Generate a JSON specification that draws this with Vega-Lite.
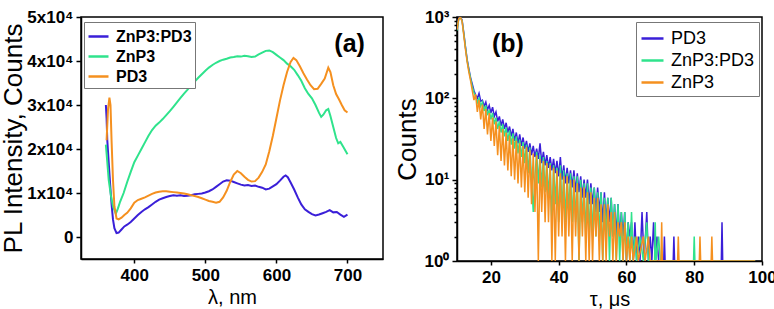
{
  "$schema": "https://vega.github.io/schema/vega-lite/v6.json",
  "padding": {"left": 0, "top": 7, "right": 0, "bottom": 0},
  "spacing": 9,
  "config": {
    "font": "Liberation Sans",
    "view": {"stroke": "#000", "strokeWidth": 1.5},
    "axis": {
      "grid": false,
      "domainColor": "#000",
      "domainWidth": 1.5,
      "tickColor": "#000",
      "tickWidth": 1.5,
      "labelColor": "#000",
      "titleColor": "#000",
      "labelFont": "Liberation Sans",
      "labelFontWeight": "bold",
      "labelFontSize": 17,
      "labelFlush": false,
      "titleFont": "Liberation Sans",
      "titleFontWeight": "normal"
    }
  },
  "resolve": {"scale": {"color": "independent"}, "legend": {"color": "independent"}},
  "datasets": {
    "pl": [
      {"s": "ZnP3:PD3", "w": 360, "i": 30000},
      {"s": "ZnP3:PD3", "w": 361, "i": 27000},
      {"s": "ZnP3:PD3", "w": 362, "i": 22000},
      {"s": "ZnP3:PD3", "w": 364, "i": 17000},
      {"s": "ZnP3:PD3", "w": 366, "i": 12000},
      {"s": "ZnP3:PD3", "w": 368, "i": 7500},
      {"s": "ZnP3:PD3", "w": 370, "i": 4000},
      {"s": "ZnP3:PD3", "w": 372, "i": 2000},
      {"s": "ZnP3:PD3", "w": 375, "i": 900},
      {"s": "ZnP3:PD3", "w": 378, "i": 1000},
      {"s": "ZnP3:PD3", "w": 382, "i": 1700},
      {"s": "ZnP3:PD3", "w": 386, "i": 2400},
      {"s": "ZnP3:PD3", "w": 390, "i": 2800},
      {"s": "ZnP3:PD3", "w": 395, "i": 3400},
      {"s": "ZnP3:PD3", "w": 400, "i": 4200},
      {"s": "ZnP3:PD3", "w": 405, "i": 5000},
      {"s": "ZnP3:PD3", "w": 410, "i": 5700},
      {"s": "ZnP3:PD3", "w": 415, "i": 6300},
      {"s": "ZnP3:PD3", "w": 420, "i": 6800},
      {"s": "ZnP3:PD3", "w": 425, "i": 7400},
      {"s": "ZnP3:PD3", "w": 430, "i": 8000},
      {"s": "ZnP3:PD3", "w": 435, "i": 8500},
      {"s": "ZnP3:PD3", "w": 440, "i": 8800},
      {"s": "ZnP3:PD3", "w": 445, "i": 9100},
      {"s": "ZnP3:PD3", "w": 450, "i": 9300},
      {"s": "ZnP3:PD3", "w": 455, "i": 9500},
      {"s": "ZnP3:PD3", "w": 460, "i": 9400},
      {"s": "ZnP3:PD3", "w": 465, "i": 9500},
      {"s": "ZnP3:PD3", "w": 470, "i": 9300},
      {"s": "ZnP3:PD3", "w": 475, "i": 9400},
      {"s": "ZnP3:PD3", "w": 480, "i": 9500},
      {"s": "ZnP3:PD3", "w": 485, "i": 9700},
      {"s": "ZnP3:PD3", "w": 490, "i": 9800},
      {"s": "ZnP3:PD3", "w": 495, "i": 9900},
      {"s": "ZnP3:PD3", "w": 500, "i": 10100},
      {"s": "ZnP3:PD3", "w": 505, "i": 10400},
      {"s": "ZnP3:PD3", "w": 510, "i": 10800},
      {"s": "ZnP3:PD3", "w": 515, "i": 11400},
      {"s": "ZnP3:PD3", "w": 520, "i": 12000},
      {"s": "ZnP3:PD3", "w": 525, "i": 12600},
      {"s": "ZnP3:PD3", "w": 530, "i": 12900},
      {"s": "ZnP3:PD3", "w": 535, "i": 12800},
      {"s": "ZnP3:PD3", "w": 540, "i": 12500},
      {"s": "ZnP3:PD3", "w": 545, "i": 12200},
      {"s": "ZnP3:PD3", "w": 550, "i": 11900},
      {"s": "ZnP3:PD3", "w": 555, "i": 11700},
      {"s": "ZnP3:PD3", "w": 560, "i": 11800},
      {"s": "ZnP3:PD3", "w": 565, "i": 11600},
      {"s": "ZnP3:PD3", "w": 570, "i": 11700},
      {"s": "ZnP3:PD3", "w": 575, "i": 11400},
      {"s": "ZnP3:PD3", "w": 580, "i": 11200},
      {"s": "ZnP3:PD3", "w": 585, "i": 10800},
      {"s": "ZnP3:PD3", "w": 590, "i": 11000},
      {"s": "ZnP3:PD3", "w": 595, "i": 11500},
      {"s": "ZnP3:PD3", "w": 600, "i": 12000},
      {"s": "ZnP3:PD3", "w": 605, "i": 12800},
      {"s": "ZnP3:PD3", "w": 610, "i": 13700},
      {"s": "ZnP3:PD3", "w": 613, "i": 14000},
      {"s": "ZnP3:PD3", "w": 616, "i": 13600},
      {"s": "ZnP3:PD3", "w": 620, "i": 12400},
      {"s": "ZnP3:PD3", "w": 625, "i": 10800},
      {"s": "ZnP3:PD3", "w": 630, "i": 9000},
      {"s": "ZnP3:PD3", "w": 635, "i": 7400},
      {"s": "ZnP3:PD3", "w": 640, "i": 6300},
      {"s": "ZnP3:PD3", "w": 645, "i": 5700},
      {"s": "ZnP3:PD3", "w": 650, "i": 5200},
      {"s": "ZnP3:PD3", "w": 655, "i": 4900},
      {"s": "ZnP3:PD3", "w": 660, "i": 5100},
      {"s": "ZnP3:PD3", "w": 665, "i": 5400},
      {"s": "ZnP3:PD3", "w": 670, "i": 5700},
      {"s": "ZnP3:PD3", "w": 675, "i": 6100},
      {"s": "ZnP3:PD3", "w": 680, "i": 5600},
      {"s": "ZnP3:PD3", "w": 685, "i": 5700},
      {"s": "ZnP3:PD3", "w": 690, "i": 5100},
      {"s": "ZnP3:PD3", "w": 695, "i": 4600},
      {"s": "ZnP3:PD3", "w": 700, "i": 5100},
      {"s": "ZnP3", "w": 360, "i": 21000},
      {"s": "ZnP3", "w": 362, "i": 17000},
      {"s": "ZnP3", "w": 364, "i": 13000},
      {"s": "ZnP3", "w": 367, "i": 9500},
      {"s": "ZnP3", "w": 370, "i": 7000},
      {"s": "ZnP3", "w": 374, "i": 5300},
      {"s": "ZnP3", "w": 377, "i": 6500},
      {"s": "ZnP3", "w": 380, "i": 8000},
      {"s": "ZnP3", "w": 385, "i": 10000},
      {"s": "ZnP3", "w": 390, "i": 12500},
      {"s": "ZnP3", "w": 395, "i": 14800},
      {"s": "ZnP3", "w": 400, "i": 17000},
      {"s": "ZnP3", "w": 405, "i": 18500},
      {"s": "ZnP3", "w": 410, "i": 20000},
      {"s": "ZnP3", "w": 415, "i": 21500},
      {"s": "ZnP3", "w": 420, "i": 23000},
      {"s": "ZnP3", "w": 425, "i": 24300},
      {"s": "ZnP3", "w": 430, "i": 25300},
      {"s": "ZnP3", "w": 435, "i": 26000},
      {"s": "ZnP3", "w": 440, "i": 26800},
      {"s": "ZnP3", "w": 445, "i": 27700},
      {"s": "ZnP3", "w": 450, "i": 28600},
      {"s": "ZnP3", "w": 455, "i": 29600},
      {"s": "ZnP3", "w": 460, "i": 30600},
      {"s": "ZnP3", "w": 465, "i": 31600},
      {"s": "ZnP3", "w": 470, "i": 32600},
      {"s": "ZnP3", "w": 475, "i": 33500},
      {"s": "ZnP3", "w": 480, "i": 34500},
      {"s": "ZnP3", "w": 485, "i": 35300},
      {"s": "ZnP3", "w": 490, "i": 36200},
      {"s": "ZnP3", "w": 495, "i": 37000},
      {"s": "ZnP3", "w": 500, "i": 37800},
      {"s": "ZnP3", "w": 505, "i": 38500},
      {"s": "ZnP3", "w": 510, "i": 39100},
      {"s": "ZnP3", "w": 515, "i": 39600},
      {"s": "ZnP3", "w": 520, "i": 40000},
      {"s": "ZnP3", "w": 525, "i": 40300},
      {"s": "ZnP3", "w": 530, "i": 40500},
      {"s": "ZnP3", "w": 535, "i": 40800},
      {"s": "ZnP3", "w": 540, "i": 40900},
      {"s": "ZnP3", "w": 545, "i": 41100},
      {"s": "ZnP3", "w": 550, "i": 41000},
      {"s": "ZnP3", "w": 555, "i": 41200},
      {"s": "ZnP3", "w": 560, "i": 41100},
      {"s": "ZnP3", "w": 565, "i": 40900},
      {"s": "ZnP3", "w": 570, "i": 41000},
      {"s": "ZnP3", "w": 575, "i": 41500},
      {"s": "ZnP3", "w": 580, "i": 41900},
      {"s": "ZnP3", "w": 585, "i": 42300},
      {"s": "ZnP3", "w": 590, "i": 42400},
      {"s": "ZnP3", "w": 595, "i": 42000},
      {"s": "ZnP3", "w": 600, "i": 41400},
      {"s": "ZnP3", "w": 605, "i": 40800},
      {"s": "ZnP3", "w": 610, "i": 40200},
      {"s": "ZnP3", "w": 615, "i": 39400},
      {"s": "ZnP3", "w": 620, "i": 38800},
      {"s": "ZnP3", "w": 625, "i": 38000},
      {"s": "ZnP3", "w": 630, "i": 36800},
      {"s": "ZnP3", "w": 635, "i": 35500},
      {"s": "ZnP3", "w": 640, "i": 33800},
      {"s": "ZnP3", "w": 645, "i": 32500},
      {"s": "ZnP3", "w": 650, "i": 31500},
      {"s": "ZnP3", "w": 655, "i": 30000},
      {"s": "ZnP3", "w": 660, "i": 28200},
      {"s": "ZnP3", "w": 663, "i": 27300},
      {"s": "ZnP3", "w": 666, "i": 27800},
      {"s": "ZnP3", "w": 670, "i": 28800},
      {"s": "ZnP3", "w": 673, "i": 29100},
      {"s": "ZnP3", "w": 676, "i": 27500},
      {"s": "ZnP3", "w": 680, "i": 25000},
      {"s": "ZnP3", "w": 684, "i": 22500},
      {"s": "ZnP3", "w": 687, "i": 21300},
      {"s": "ZnP3", "w": 690, "i": 21600},
      {"s": "ZnP3", "w": 694, "i": 20500},
      {"s": "ZnP3", "w": 700, "i": 18800},
      {"s": "PD3", "w": 361, "i": 22000},
      {"s": "PD3", "w": 363, "i": 29000},
      {"s": "PD3", "w": 365, "i": 31700},
      {"s": "PD3", "w": 366.5, "i": 30000},
      {"s": "PD3", "w": 368, "i": 22000},
      {"s": "PD3", "w": 370, "i": 13000},
      {"s": "PD3", "w": 372, "i": 7000},
      {"s": "PD3", "w": 375, "i": 4200},
      {"s": "PD3", "w": 378, "i": 4000},
      {"s": "PD3", "w": 382, "i": 4400},
      {"s": "PD3", "w": 386, "i": 5000},
      {"s": "PD3", "w": 390, "i": 5500},
      {"s": "PD3", "w": 395, "i": 6500},
      {"s": "PD3", "w": 400, "i": 7800},
      {"s": "PD3", "w": 405, "i": 8400},
      {"s": "PD3", "w": 410, "i": 8700},
      {"s": "PD3", "w": 415, "i": 9000},
      {"s": "PD3", "w": 420, "i": 9400},
      {"s": "PD3", "w": 425, "i": 9800},
      {"s": "PD3", "w": 430, "i": 10100},
      {"s": "PD3", "w": 435, "i": 10300},
      {"s": "PD3", "w": 440, "i": 10400},
      {"s": "PD3", "w": 445, "i": 10400},
      {"s": "PD3", "w": 450, "i": 10300},
      {"s": "PD3", "w": 455, "i": 10200},
      {"s": "PD3", "w": 460, "i": 10100},
      {"s": "PD3", "w": 465, "i": 10000},
      {"s": "PD3", "w": 470, "i": 9900},
      {"s": "PD3", "w": 475, "i": 9700},
      {"s": "PD3", "w": 480, "i": 9500},
      {"s": "PD3", "w": 485, "i": 9300},
      {"s": "PD3", "w": 490, "i": 9100},
      {"s": "PD3", "w": 495, "i": 8800},
      {"s": "PD3", "w": 500, "i": 8500},
      {"s": "PD3", "w": 505, "i": 8200},
      {"s": "PD3", "w": 510, "i": 8000},
      {"s": "PD3", "w": 515, "i": 7800},
      {"s": "PD3", "w": 520, "i": 8000},
      {"s": "PD3", "w": 525, "i": 9000},
      {"s": "PD3", "w": 530, "i": 10500},
      {"s": "PD3", "w": 535, "i": 12500},
      {"s": "PD3", "w": 540, "i": 14200},
      {"s": "PD3", "w": 545, "i": 15000},
      {"s": "PD3", "w": 550, "i": 14500},
      {"s": "PD3", "w": 555, "i": 13700},
      {"s": "PD3", "w": 560, "i": 13000},
      {"s": "PD3", "w": 565, "i": 12600},
      {"s": "PD3", "w": 570, "i": 12700},
      {"s": "PD3", "w": 575, "i": 13500},
      {"s": "PD3", "w": 580, "i": 14800},
      {"s": "PD3", "w": 585, "i": 16500},
      {"s": "PD3", "w": 590, "i": 19500},
      {"s": "PD3", "w": 595, "i": 23000},
      {"s": "PD3", "w": 600, "i": 27000},
      {"s": "PD3", "w": 605, "i": 31000},
      {"s": "PD3", "w": 610, "i": 34500},
      {"s": "PD3", "w": 615, "i": 37500},
      {"s": "PD3", "w": 620, "i": 39800},
      {"s": "PD3", "w": 624, "i": 40700},
      {"s": "PD3", "w": 628, "i": 40200},
      {"s": "PD3", "w": 633, "i": 38800},
      {"s": "PD3", "w": 638, "i": 37200},
      {"s": "PD3", "w": 643, "i": 35800},
      {"s": "PD3", "w": 648, "i": 34500},
      {"s": "PD3", "w": 653, "i": 33600},
      {"s": "PD3", "w": 658, "i": 33700},
      {"s": "PD3", "w": 663, "i": 34800},
      {"s": "PD3", "w": 668, "i": 36000},
      {"s": "PD3", "w": 673, "i": 38500},
      {"s": "PD3", "w": 676, "i": 37500},
      {"s": "PD3", "w": 680, "i": 34500},
      {"s": "PD3", "w": 684, "i": 32500},
      {"s": "PD3", "w": 688, "i": 31300},
      {"s": "PD3", "w": 692, "i": 30000},
      {"s": "PD3", "w": 696, "i": 28800},
      {"s": "PD3", "w": 700, "i": 28300}
    ],
    "decay": [
      {"s": "PD3", "t": 10, "c": 720}, {"s": "PD3", "t": 10.5, "c": 960}, {"s": "PD3", "t": 11, "c": 1000}, {"s": "PD3", "t": 11.5, "c": 920},
      {"s": "PD3", "t": 12, "c": 640}, {"s": "PD3", "t": 12.5, "c": 430}, {"s": "PD3", "t": 13, "c": 300}, {"s": "PD3", "t": 13.5, "c": 230},
      {"s": "PD3", "t": 14, "c": 180}, {"s": "PD3", "t": 14.5, "c": 150}, {"s": "PD3", "t": 15, "c": 125}, {"s": "PD3", "t": 15.5, "c": 110},
      {"s": "PD3", "t": 16, "c": 100}, {"s": "PD3", "t": 16.5, "c": 115}, {"s": "PD3", "t": 17, "c": 92}, {"s": "PD3", "t": 17.5, "c": 95},
      {"s": "PD3", "t": 18, "c": 80}, {"s": "PD3", "t": 18.5, "c": 90}, {"s": "PD3", "t": 19, "c": 72}, {"s": "PD3", "t": 19.5, "c": 82},
      {"s": "PD3", "t": 20, "c": 66}, {"s": "PD3", "t": 20.5, "c": 78}, {"s": "PD3", "t": 21, "c": 60}, {"s": "PD3", "t": 21.5, "c": 68},
      {"s": "PD3", "t": 22, "c": 52}, {"s": "PD3", "t": 22.5, "c": 60}, {"s": "PD3", "t": 23, "c": 46}, {"s": "PD3", "t": 23.5, "c": 55},
      {"s": "PD3", "t": 24, "c": 42}, {"s": "PD3", "t": 24.5, "c": 50}, {"s": "PD3", "t": 25, "c": 38}, {"s": "PD3", "t": 25.5, "c": 45},
      {"s": "PD3", "t": 26, "c": 34}, {"s": "PD3", "t": 26.5, "c": 42}, {"s": "PD3", "t": 27, "c": 30}, {"s": "PD3", "t": 27.5, "c": 38},
      {"s": "PD3", "t": 28, "c": 28}, {"s": "PD3", "t": 28.5, "c": 36}, {"s": "PD3", "t": 29, "c": 26}, {"s": "PD3", "t": 29.5, "c": 33},
      {"s": "PD3", "t": 30, "c": 24}, {"s": "PD3", "t": 30.5, "c": 30}, {"s": "PD3", "t": 31, "c": 22}, {"s": "PD3", "t": 31.5, "c": 28},
      {"s": "PD3", "t": 32, "c": 20}, {"s": "PD3", "t": 32.5, "c": 26}, {"s": "PD3", "t": 33, "c": 19}, {"s": "PD3", "t": 33.5, "c": 24},
      {"s": "PD3", "t": 34, "c": 18}, {"s": "PD3", "t": 34.5, "c": 28}, {"s": "PD3", "t": 35, "c": 16}, {"s": "PD3", "t": 35.5, "c": 22},
      {"s": "PD3", "t": 36, "c": 15}, {"s": "PD3", "t": 36.5, "c": 20}, {"s": "PD3", "t": 37, "c": 14}, {"s": "PD3", "t": 37.5, "c": 19},
      {"s": "PD3", "t": 38, "c": 13}, {"s": "PD3", "t": 38.5, "c": 18}, {"s": "PD3", "t": 39, "c": 12}, {"s": "PD3", "t": 39.5, "c": 17},
      {"s": "PD3", "t": 40, "c": 11}, {"s": "PD3", "t": 40.5, "c": 19}, {"s": "PD3", "t": 41, "c": 10}, {"s": "PD3", "t": 41.5, "c": 15},
      {"s": "PD3", "t": 42, "c": 9}, {"s": "PD3", "t": 42.5, "c": 14}, {"s": "PD3", "t": 43, "c": 9}, {"s": "PD3", "t": 43.5, "c": 13},
      {"s": "PD3", "t": 44, "c": 8}, {"s": "PD3", "t": 44.5, "c": 13}, {"s": "PD3", "t": 45, "c": 7}, {"s": "PD3", "t": 45.5, "c": 12},
      {"s": "PD3", "t": 46, "c": 7}, {"s": "PD3", "t": 46.5, "c": 11}, {"s": "PD3", "t": 47, "c": 6}, {"s": "PD3", "t": 47.5, "c": 10},
      {"s": "PD3", "t": 48, "c": 6}, {"s": "PD3", "t": 48.5, "c": 10}, {"s": "PD3", "t": 49, "c": 5}, {"s": "PD3", "t": 49.5, "c": 9},
      {"s": "PD3", "t": 50, "c": 5}, {"s": "PD3", "t": 50.5, "c": 8}, {"s": "PD3", "t": 51, "c": 4}, {"s": "PD3", "t": 51.5, "c": 8},
      {"s": "PD3", "t": 52, "c": 4}, {"s": "PD3", "t": 52.5, "c": 7}, {"s": "PD3", "t": 53, "c": 3}, {"s": "PD3", "t": 53.5, "c": 7},
      {"s": "PD3", "t": 54, "c": 3}, {"s": "PD3", "t": 54.5, "c": 6}, {"s": "PD3", "t": 55, "c": 3}, {"s": "PD3", "t": 55.5, "c": 6},
      {"s": "PD3", "t": 56, "c": 2}, {"s": "PD3", "t": 56.5, "c": 5}, {"s": "PD3", "t": 57, "c": 2}, {"s": "PD3", "t": 57.5, "c": 5},
      {"s": "PD3", "t": 58, "c": 2}, {"s": "PD3", "t": 58.5, "c": 4}, {"s": "PD3", "t": 59, "c": 2}, {"s": "PD3", "t": 59.5, "c": 4},
      {"s": "PD3", "t": 60, "c": 1}, {"s": "PD3", "t": 60.5, "c": 3}, {"s": "PD3", "t": 61, "c": 2}, {"s": "PD3", "t": 61.5, "c": 3},
      {"s": "PD3", "t": 62, "c": 1}, {"s": "PD3", "t": 62.5, "c": 3}, {"s": "PD3", "t": 63, "c": 1}, {"s": "PD3", "t": 63.5, "c": 2},
      {"s": "PD3", "t": 64, "c": 1}, {"s": "PD3", "t": 64.6, "c": 4}, {"s": "PD3", "t": 65.2, "c": 1}, {"s": "PD3", "t": 66, "c": 4},
      {"s": "PD3", "t": 66.5, "c": 1}, {"s": "PD3", "t": 67, "c": 2}, {"s": "PD3", "t": 67.5, "c": 1}, {"s": "PD3", "t": 68, "c": 3},
      {"s": "PD3", "t": 68.5, "c": 1}, {"s": "PD3", "t": 69, "c": 2}, {"s": "PD3", "t": 69.5, "c": 1}, {"s": "PD3", "t": 71, "c": 1},
      {"s": "PD3", "t": 71.2, "c": 2}, {"s": "PD3", "t": 71.4, "c": 1}, {"s": "PD3", "t": 73.8, "c": 1}, {"s": "PD3", "t": 74, "c": 2},
      {"s": "PD3", "t": 74.2, "c": 1}, {"s": "PD3", "t": 88, "c": 1}, {"s": "PD3", "t": 88.2, "c": 3}, {"s": "PD3", "t": 88.4, "c": 1},
      {"s": "PD3", "t": 98, "c": 1},
      {"s": "ZnP3:PD3", "t": 10, "c": 680}, {"s": "ZnP3:PD3", "t": 10.5, "c": 940}, {"s": "ZnP3:PD3", "t": 11, "c": 990}, {"s": "ZnP3:PD3", "t": 11.5, "c": 900},
      {"s": "ZnP3:PD3", "t": 12, "c": 620}, {"s": "ZnP3:PD3", "t": 12.5, "c": 420}, {"s": "ZnP3:PD3", "t": 13, "c": 290}, {"s": "ZnP3:PD3", "t": 13.5, "c": 222},
      {"s": "ZnP3:PD3", "t": 14, "c": 175}, {"s": "ZnP3:PD3", "t": 14.5, "c": 140}, {"s": "ZnP3:PD3", "t": 15, "c": 118}, {"s": "ZnP3:PD3", "t": 15.5, "c": 105},
      {"s": "ZnP3:PD3", "t": 16, "c": 88}, {"s": "ZnP3:PD3", "t": 16.5, "c": 100}, {"s": "ZnP3:PD3", "t": 17, "c": 80}, {"s": "ZnP3:PD3", "t": 17.5, "c": 90},
      {"s": "ZnP3:PD3", "t": 18, "c": 70}, {"s": "ZnP3:PD3", "t": 18.5, "c": 82}, {"s": "ZnP3:PD3", "t": 19, "c": 62}, {"s": "ZnP3:PD3", "t": 19.5, "c": 72},
      {"s": "ZnP3:PD3", "t": 20, "c": 55}, {"s": "ZnP3:PD3", "t": 20.5, "c": 66}, {"s": "ZnP3:PD3", "t": 21, "c": 48}, {"s": "ZnP3:PD3", "t": 21.5, "c": 58},
      {"s": "ZnP3:PD3", "t": 22, "c": 42}, {"s": "ZnP3:PD3", "t": 22.5, "c": 52}, {"s": "ZnP3:PD3", "t": 23, "c": 38}, {"s": "ZnP3:PD3", "t": 23.5, "c": 48},
      {"s": "ZnP3:PD3", "t": 24, "c": 34}, {"s": "ZnP3:PD3", "t": 24.5, "c": 44}, {"s": "ZnP3:PD3", "t": 25, "c": 30}, {"s": "ZnP3:PD3", "t": 25.5, "c": 40},
      {"s": "ZnP3:PD3", "t": 26, "c": 27}, {"s": "ZnP3:PD3", "t": 26.5, "c": 37}, {"s": "ZnP3:PD3", "t": 27, "c": 24}, {"s": "ZnP3:PD3", "t": 27.5, "c": 34},
      {"s": "ZnP3:PD3", "t": 28, "c": 21}, {"s": "ZnP3:PD3", "t": 28.5, "c": 31}, {"s": "ZnP3:PD3", "t": 29, "c": 19}, {"s": "ZnP3:PD3", "t": 29.5, "c": 29},
      {"s": "ZnP3:PD3", "t": 30, "c": 16}, {"s": "ZnP3:PD3", "t": 30.5, "c": 27}, {"s": "ZnP3:PD3", "t": 31, "c": 12}, {"s": "ZnP3:PD3", "t": 31.5, "c": 25},
      {"s": "ZnP3:PD3", "t": 32, "c": 10}, {"s": "ZnP3:PD3", "t": 32.5, "c": 4}, {"s": "ZnP3:PD3", "t": 33, "c": 11}, {"s": "ZnP3:PD3", "t": 33.5, "c": 22},
      {"s": "ZnP3:PD3", "t": 34, "c": 9}, {"s": "ZnP3:PD3", "t": 34.5, "c": 20}, {"s": "ZnP3:PD3", "t": 35, "c": 8}, {"s": "ZnP3:PD3", "t": 35.5, "c": 19},
      {"s": "ZnP3:PD3", "t": 36, "c": 7}, {"s": "ZnP3:PD3", "t": 36.5, "c": 17}, {"s": "ZnP3:PD3", "t": 37, "c": 6}, {"s": "ZnP3:PD3", "t": 37.5, "c": 16},
      {"s": "ZnP3:PD3", "t": 38, "c": 3}, {"s": "ZnP3:PD3", "t": 38.5, "c": 15}, {"s": "ZnP3:PD3", "t": 39, "c": 5}, {"s": "ZnP3:PD3", "t": 39.5, "c": 14},
      {"s": "ZnP3:PD3", "t": 40, "c": 3}, {"s": "ZnP3:PD3", "t": 40.5, "c": 15}, {"s": "ZnP3:PD3", "t": 41, "c": 4}, {"s": "ZnP3:PD3", "t": 41.5, "c": 13},
      {"s": "ZnP3:PD3", "t": 42, "c": 3}, {"s": "ZnP3:PD3", "t": 42.5, "c": 12}, {"s": "ZnP3:PD3", "t": 43, "c": 4}, {"s": "ZnP3:PD3", "t": 43.5, "c": 12},
      {"s": "ZnP3:PD3", "t": 44, "c": 3}, {"s": "ZnP3:PD3", "t": 44.5, "c": 11}, {"s": "ZnP3:PD3", "t": 45, "c": 3}, {"s": "ZnP3:PD3", "t": 45.5, "c": 11},
      {"s": "ZnP3:PD3", "t": 46, "c": 1}, {"s": "ZnP3:PD3", "t": 46.5, "c": 10}, {"s": "ZnP3:PD3", "t": 47, "c": 3}, {"s": "ZnP3:PD3", "t": 47.5, "c": 9},
      {"s": "ZnP3:PD3", "t": 48, "c": 2}, {"s": "ZnP3:PD3", "t": 48.5, "c": 9}, {"s": "ZnP3:PD3", "t": 49, "c": 2}, {"s": "ZnP3:PD3", "t": 49.5, "c": 8},
      {"s": "ZnP3:PD3", "t": 50, "c": 2}, {"s": "ZnP3:PD3", "t": 50.5, "c": 8}, {"s": "ZnP3:PD3", "t": 51, "c": 2}, {"s": "ZnP3:PD3", "t": 51.5, "c": 7},
      {"s": "ZnP3:PD3", "t": 52, "c": 2}, {"s": "ZnP3:PD3", "t": 52.5, "c": 7}, {"s": "ZnP3:PD3", "t": 53, "c": 1}, {"s": "ZnP3:PD3", "t": 53.5, "c": 6},
      {"s": "ZnP3:PD3", "t": 54, "c": 2}, {"s": "ZnP3:PD3", "t": 54.5, "c": 6}, {"s": "ZnP3:PD3", "t": 55, "c": 1}, {"s": "ZnP3:PD3", "t": 55.5, "c": 6},
      {"s": "ZnP3:PD3", "t": 56, "c": 2}, {"s": "ZnP3:PD3", "t": 56.5, "c": 5}, {"s": "ZnP3:PD3", "t": 57, "c": 1}, {"s": "ZnP3:PD3", "t": 57.5, "c": 5},
      {"s": "ZnP3:PD3", "t": 58, "c": 1}, {"s": "ZnP3:PD3", "t": 58.5, "c": 4}, {"s": "ZnP3:PD3", "t": 59, "c": 1}, {"s": "ZnP3:PD3", "t": 59.5, "c": 4},
      {"s": "ZnP3:PD3", "t": 60, "c": 1}, {"s": "ZnP3:PD3", "t": 60.5, "c": 3}, {"s": "ZnP3:PD3", "t": 61, "c": 1}, {"s": "ZnP3:PD3", "t": 61.5, "c": 4},
      {"s": "ZnP3:PD3", "t": 62, "c": 1}, {"s": "ZnP3:PD3", "t": 62.5, "c": 2}, {"s": "ZnP3:PD3", "t": 63, "c": 1}, {"s": "ZnP3:PD3", "t": 64, "c": 2},
      {"s": "ZnP3:PD3", "t": 65, "c": 1}, {"s": "ZnP3:PD3", "t": 66, "c": 3}, {"s": "ZnP3:PD3", "t": 66.5, "c": 1}, {"s": "ZnP3:PD3", "t": 68.3, "c": 1},
      {"s": "ZnP3:PD3", "t": 68.5, "c": 3}, {"s": "ZnP3:PD3", "t": 68.7, "c": 1}, {"s": "ZnP3:PD3", "t": 69.5, "c": 2}, {"s": "ZnP3:PD3", "t": 70, "c": 1},
      {"s": "ZnP3:PD3", "t": 79.8, "c": 1}, {"s": "ZnP3:PD3", "t": 80, "c": 2}, {"s": "ZnP3:PD3", "t": 80.2, "c": 1}, {"s": "ZnP3:PD3", "t": 98, "c": 1},
      {"s": "ZnP3", "t": 10, "c": 700}, {"s": "ZnP3", "t": 10.5, "c": 950}, {"s": "ZnP3", "t": 11, "c": 1000}, {"s": "ZnP3", "t": 11.5, "c": 880},
      {"s": "ZnP3", "t": 12, "c": 600}, {"s": "ZnP3", "t": 12.5, "c": 400}, {"s": "ZnP3", "t": 13, "c": 280}, {"s": "ZnP3", "t": 13.5, "c": 210},
      {"s": "ZnP3", "t": 14, "c": 165}, {"s": "ZnP3", "t": 14.5, "c": 125}, {"s": "ZnP3", "t": 15, "c": 95}, {"s": "ZnP3", "t": 15.5, "c": 112},
      {"s": "ZnP3", "t": 16, "c": 68}, {"s": "ZnP3", "t": 16.5, "c": 95}, {"s": "ZnP3", "t": 17, "c": 55}, {"s": "ZnP3", "t": 17.5, "c": 84},
      {"s": "ZnP3", "t": 18, "c": 42}, {"s": "ZnP3", "t": 18.5, "c": 74}, {"s": "ZnP3", "t": 19, "c": 36}, {"s": "ZnP3", "t": 19.5, "c": 66},
      {"s": "ZnP3", "t": 20, "c": 30}, {"s": "ZnP3", "t": 20.5, "c": 58}, {"s": "ZnP3", "t": 21, "c": 26}, {"s": "ZnP3", "t": 21.5, "c": 52},
      {"s": "ZnP3", "t": 22, "c": 20}, {"s": "ZnP3", "t": 22.5, "c": 46}, {"s": "ZnP3", "t": 23, "c": 17}, {"s": "ZnP3", "t": 23.5, "c": 42},
      {"s": "ZnP3", "t": 24, "c": 15}, {"s": "ZnP3", "t": 24.5, "c": 38}, {"s": "ZnP3", "t": 25, "c": 13}, {"s": "ZnP3", "t": 25.5, "c": 35},
      {"s": "ZnP3", "t": 26, "c": 11}, {"s": "ZnP3", "t": 26.5, "c": 32}, {"s": "ZnP3", "t": 27, "c": 10}, {"s": "ZnP3", "t": 27.5, "c": 30},
      {"s": "ZnP3", "t": 28, "c": 9}, {"s": "ZnP3", "t": 28.5, "c": 28}, {"s": "ZnP3", "t": 29, "c": 8}, {"s": "ZnP3", "t": 29.5, "c": 26},
      {"s": "ZnP3", "t": 30, "c": 7}, {"s": "ZnP3", "t": 30.5, "c": 25}, {"s": "ZnP3", "t": 31, "c": 6}, {"s": "ZnP3", "t": 31.5, "c": 23},
      {"s": "ZnP3", "t": 32, "c": 5}, {"s": "ZnP3", "t": 32.5, "c": 21}, {"s": "ZnP3", "t": 33, "c": 4}, {"s": "ZnP3", "t": 33.5, "c": 20},
      {"s": "ZnP3", "t": 34, "c": 1}, {"s": "ZnP3", "t": 34.5, "c": 18}, {"s": "ZnP3", "t": 35, "c": 4}, {"s": "ZnP3", "t": 35.5, "c": 17},
      {"s": "ZnP3", "t": 36, "c": 3}, {"s": "ZnP3", "t": 36.5, "c": 16}, {"s": "ZnP3", "t": 37, "c": 3}, {"s": "ZnP3", "t": 37.5, "c": 15},
      {"s": "ZnP3", "t": 38, "c": 1}, {"s": "ZnP3", "t": 38.5, "c": 14}, {"s": "ZnP3", "t": 39, "c": 1}, {"s": "ZnP3", "t": 39.5, "c": 13},
      {"s": "ZnP3", "t": 40, "c": 2}, {"s": "ZnP3", "t": 40.5, "c": 12}, {"s": "ZnP3", "t": 41, "c": 2}, {"s": "ZnP3", "t": 41.5, "c": 11},
      {"s": "ZnP3", "t": 42, "c": 1}, {"s": "ZnP3", "t": 42.5, "c": 11}, {"s": "ZnP3", "t": 43, "c": 2}, {"s": "ZnP3", "t": 43.5, "c": 10},
      {"s": "ZnP3", "t": 44, "c": 1}, {"s": "ZnP3", "t": 44.5, "c": 10}, {"s": "ZnP3", "t": 45, "c": 2}, {"s": "ZnP3", "t": 45.5, "c": 9},
      {"s": "ZnP3", "t": 46, "c": 1}, {"s": "ZnP3", "t": 46.5, "c": 8}, {"s": "ZnP3", "t": 47, "c": 2}, {"s": "ZnP3", "t": 47.5, "c": 8},
      {"s": "ZnP3", "t": 48, "c": 1}, {"s": "ZnP3", "t": 48.5, "c": 7}, {"s": "ZnP3", "t": 49, "c": 1}, {"s": "ZnP3", "t": 49.5, "c": 7},
      {"s": "ZnP3", "t": 50, "c": 1}, {"s": "ZnP3", "t": 50.5, "c": 6}, {"s": "ZnP3", "t": 51, "c": 2}, {"s": "ZnP3", "t": 51.5, "c": 6},
      {"s": "ZnP3", "t": 52, "c": 1}, {"s": "ZnP3", "t": 52.5, "c": 5}, {"s": "ZnP3", "t": 53, "c": 1}, {"s": "ZnP3", "t": 53.5, "c": 5},
      {"s": "ZnP3", "t": 54, "c": 1}, {"s": "ZnP3", "t": 54.5, "c": 5}, {"s": "ZnP3", "t": 55, "c": 2}, {"s": "ZnP3", "t": 55.5, "c": 4},
      {"s": "ZnP3", "t": 56, "c": 1}, {"s": "ZnP3", "t": 56.5, "c": 4}, {"s": "ZnP3", "t": 57, "c": 1}, {"s": "ZnP3", "t": 57.5, "c": 3},
      {"s": "ZnP3", "t": 58, "c": 2}, {"s": "ZnP3", "t": 58.5, "c": 3}, {"s": "ZnP3", "t": 59, "c": 1}, {"s": "ZnP3", "t": 59.5, "c": 3},
      {"s": "ZnP3", "t": 60, "c": 1}, {"s": "ZnP3", "t": 60.5, "c": 2}, {"s": "ZnP3", "t": 61, "c": 1}, {"s": "ZnP3", "t": 61.5, "c": 2},
      {"s": "ZnP3", "t": 62, "c": 1}, {"s": "ZnP3", "t": 63, "c": 2}, {"s": "ZnP3", "t": 63.5, "c": 1}, {"s": "ZnP3", "t": 65, "c": 2},
      {"s": "ZnP3", "t": 65.5, "c": 1}, {"s": "ZnP3", "t": 66.5, "c": 2}, {"s": "ZnP3", "t": 67, "c": 1}, {"s": "ZnP3", "t": 70.2, "c": 1},
      {"s": "ZnP3", "t": 70.4, "c": 3}, {"s": "ZnP3", "t": 70.6, "c": 1}, {"s": "ZnP3", "t": 75.1, "c": 1}, {"s": "ZnP3", "t": 75.3, "c": 2},
      {"s": "ZnP3", "t": 75.5, "c": 1}, {"s": "ZnP3", "t": 81.5, "c": 1}, {"s": "ZnP3", "t": 81.7, "c": 2}, {"s": "ZnP3", "t": 81.9, "c": 1},
      {"s": "ZnP3", "t": 85, "c": 1}, {"s": "ZnP3", "t": 85.2, "c": 2}, {"s": "ZnP3", "t": 85.4, "c": 1}, {"s": "ZnP3", "t": 98, "c": 1}
    ]
  },
  "hconcat": [
    {
      "width": 302,
      "height": 242,
      "layer": [
        {
          "data": {"name": "pl"},
          "mark": {"type": "line", "strokeWidth": 2},
          "encoding": {
            "x": {
              "field": "w", "type": "quantitative",
              "scale": {"domain": [325, 750], "nice": false, "zero": false},
              "axis": {
                "title": "λ, nm", "titleFontSize": 20, "labelOverlap": false,
                "values": [400, 500, 600, 700],
                "tickSize": 4, "labelPadding": 4
              }
            },
            "y": {
              "field": "i", "type": "quantitative",
              "scale": {"domain": [-5000, 50000], "nice": false, "zero": false},
              "axis": {
                "title": "PL Intensity, Counts", "titleFontSize": 26, "titlePadding": 0, "labelOverlap": false,
                "values": [0, 10000, 20000, 30000, 40000, 50000],
                "labelExpr": "datum.value == 0 ? '0' : datum.value == 10000 ? '1x10⁴' : datum.value == 20000 ? '2x10⁴' : datum.value == 30000 ? '3x10⁴' : datum.value == 40000 ? '4x10⁴' : '5x10⁴'",
                "tickSize": 5, "labelPadding": 3
              }
            },
            "color": {
              "field": "s", "type": "nominal",
              "scale": {"domain": ["ZnP3:PD3", "ZnP3", "PD3"], "range": ["#3a1fd8", "#2fe38c", "#f5901f"]},
              "legend": {
                "title": null, "orient": "none", "legendX": 3, "legendY": 5,
                "symbolType": "stroke", "symbolSize": 400, "symbolStrokeWidth": 2.5,
                "labelFont": "Liberation Sans", "labelColor": "#000",
                "labelFontSize": 16, "labelFontWeight": "bold", "labelOffset": 6,
                "rowPadding": 0, "padding": 3,
                "fillColor": "#fff", "strokeColor": "#777"
              }
            }
          }
        },
        {
          "data": {"values": [{"tag": "(a)", "w": 703, "i": 43900}]},
          "mark": {"type": "text", "fontSize": 25, "fontWeight": "bold", "font": "Liberation Sans", "color": "#000"},
          "encoding": {
            "x": {"field": "w", "type": "quantitative"},
            "y": {"field": "i", "type": "quantitative"},
            "text": {"field": "tag"}
          }
        }
      ]
    },
    {
      "width": 305,
      "height": 244,
      "layer": [
        {
          "data": {"name": "decay"},
          "transform": [{"filter": "datum.s == 'PD3'"}],
          "mark": {"type": "line", "strokeWidth": 1.5, "clip": true},
          "encoding": {
            "x": {
              "field": "t", "type": "quantitative",
              "scale": {"domain": [10, 100], "nice": false, "zero": false},
              "axis": {
                "title": "τ, μs", "titleFontSize": 20, "labelOverlap": false,
                "values": [20, 40, 60, 80, 100],
                "tickSize": 4, "labelPadding": 4
              }
            },
            "y": {
              "field": "c", "type": "quantitative",
              "scale": {"type": "log", "domain": [1, 1000], "nice": false},
              "axis": {
                "title": "Counts", "titleFontSize": 26, "titlePadding": 4, "labelOverlap": false,
                "values": [1, 2, 3, 4, 5, 6, 7, 8, 9, 10, 20, 30, 40, 50, 60, 70, 80, 90, 100, 200, 300, 400, 500, 600, 700, 800, 900, 1000],
                "labelExpr": "datum.value == 1 ? '10⁰' : datum.value == 10 ? '10¹' : datum.value == 100 ? '10²' : datum.value == 1000 ? '10³' : ''",
                "tickSize": {"condition": {"test": "datum.value == 1 || datum.value == 10 || datum.value == 100 || datum.value == 1000", "value": 5}, "value": 3},
                "labelPadding": 3
              }
            },
            "color": {
              "field": "s", "type": "nominal",
              "scale": {"domain": ["PD3", "ZnP3:PD3", "ZnP3"], "range": ["#3a1fd8", "#2fe38c", "#f5901f"]},
              "legend": {
                "title": null, "orient": "none", "legendX": 179, "legendY": 5,
                "symbolType": "stroke", "symbolSize": 484, "symbolStrokeWidth": 2.5,
                "labelFont": "Liberation Sans", "labelColor": "#000",
                "labelFontSize": 18, "labelOffset": 6,
                "rowPadding": 0, "padding": 4,
                "fillColor": "#fff", "strokeColor": "#777"
              }
            }
          }
        },
        {
          "data": {"name": "decay"},
          "transform": [{"filter": "datum.s == 'ZnP3:PD3'"}],
          "mark": {"type": "line", "strokeWidth": 1.5, "clip": true},
          "encoding": {
            "x": {"field": "t", "type": "quantitative"},
            "y": {"field": "c", "type": "quantitative"},
            "color": {"field": "s", "type": "nominal"}
          }
        },
        {
          "data": {"name": "decay"},
          "transform": [{"filter": "datum.s == 'ZnP3'"}],
          "mark": {"type": "line", "strokeWidth": 1.5, "clip": true},
          "encoding": {
            "x": {"field": "t", "type": "quantitative"},
            "y": {"field": "c", "type": "quantitative"},
            "color": {"field": "s", "type": "nominal"}
          }
        },
        {
          "data": {"values": [{"tag": "(b)", "t": 25, "c": 465}]},
          "mark": {"type": "text", "fontSize": 25, "fontWeight": "bold", "font": "Liberation Sans", "color": "#000"},
          "encoding": {
            "x": {"field": "t", "type": "quantitative"},
            "y": {"field": "c", "type": "quantitative"},
            "text": {"field": "tag"}
          }
        }
      ]
    }
  ]
}
